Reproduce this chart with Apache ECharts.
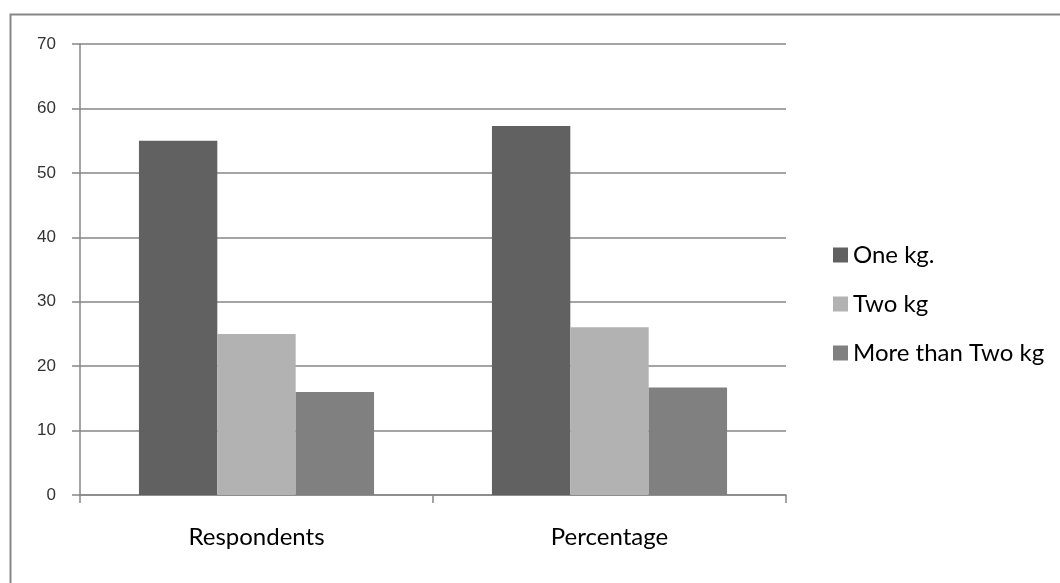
<!DOCTYPE html>
<html>
<head>
<meta charset="utf-8">
<script src="https://cdn.jsdelivr.net/npm/echarts@6/dist/echarts.min.js"></script>
<style>html,body{margin:0;padding:0;background:#fff}#c{width:1060px;height:583px}</style>
</head>
<body>
<div id="c"></div>
<script>
const categories = ['Respondents', 'Percentage'];
const seriesNames = ['One kg.', 'Two kg', 'More than Two kg'];
const oneKg = [55, 57.29];
const twoKg = [25, 26.04];
const moreThanTwoKg = [16, 16.67];
const yTicks = [0, 10, 20, 30, 40, 50, 60, 70];

const colors = ['#616161', '#b2b2b2', '#808080'];
const textFont = 'Lato';
const chart = echarts.init(document.getElementById('c'), null, {renderer: 'canvas'});
const axisGray = '#868686';
chart.setOption({
  animation: false,
  backgroundColor: '#fff',
  graphic: [{
    type: 'rect', left: 8, top: 12, silent: true,
    shape: {x: 0, y: 0, width: 1100, height: 1000},
    style: {fill: 'none', stroke: '#878787', lineWidth: 2}
  }],
  grid: {left: 80, right: 274, top: 44, bottom: 88, containLabel: false},
  legend: {
    orient: 'vertical', left: 828, top: 238,
    itemWidth: 15, itemHeight: 15, itemGap: 25,
    icon: 'rect',
    textStyle: {fontFamily: textFont, fontSize: 24, color: '#000'},
    data: seriesNames
  },
  xAxis: {
    type: 'category', data: categories,
    axisLine: {show: true, lineStyle: {color: axisGray, width: 1.5}},
    axisTick: {show: true, length: 8, lineStyle: {color: axisGray, width: 1.5}},
    axisLabel: {fontFamily: textFont, fontSize: 24, color: '#000', margin: 30},
    splitLine: {show: false}
  },
  yAxis: {
    type: 'value', min: yTicks[0], max: yTicks[yTicks.length - 1], interval: 10,
    axisLine: {show: true, lineStyle: {color: axisGray, width: 1.5}},
    axisTick: {show: true, length: 8, lineStyle: {color: axisGray, width: 1.5}},
    axisLabel: {fontFamily: 'Liberation Sans', fontSize: 17, color: '#333', margin: 24},
    splitLine: {show: true, lineStyle: {color: axisGray, width: 1.5}}
  },
  series: [
    {name: seriesNames[0], type: 'bar', data: oneKg, itemStyle: {color: colors[0]}, barGap: 0, barCategoryGap: '33.4%'},
    {name: seriesNames[1], type: 'bar', data: twoKg, itemStyle: {color: colors[1]}},
    {name: seriesNames[2], type: 'bar', data: moreThanTwoKg, itemStyle: {color: colors[2]}}
  ]
});
</script>
</body>
</html>
